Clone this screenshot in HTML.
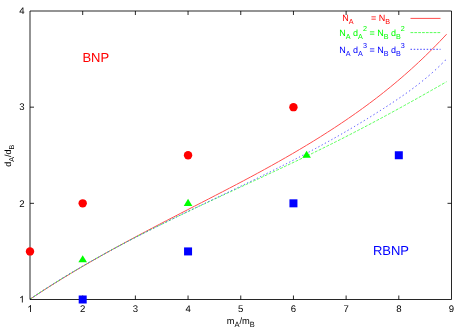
<!DOCTYPE html>
<html><head><meta charset="utf-8"><title>BNP / RBNP phase diagram</title>
<style>
html,body{margin:0;padding:0;background:#fff;}
body{width:467px;height:327px;overflow:hidden;}
svg{display:block;will-change:transform;text-rendering:geometricPrecision;font-family:"Liberation Sans",sans-serif;}
</style></head><body>
<svg width="467" height="327" viewBox="0 0 467 327">
<rect width="467" height="327" fill="#fff"/>
<!-- curves -->
<g fill="none" stroke-width="1">
<path d="M30.00,299.20 L33.50,296.88 L37.00,294.58 L40.50,292.30 L44.00,290.05 L47.50,287.81 L51.01,285.59 L54.51,283.40 L58.01,281.22 L61.51,279.06 L65.01,276.92 L68.51,274.80 L72.01,272.69 L75.51,270.60 L79.01,268.53 L82.51,266.47 L86.01,264.43 L89.51,262.40 L93.02,260.39 L96.52,258.39 L100.02,256.41 L103.52,254.44 L107.02,252.48 L110.52,250.53 L114.02,248.59 L117.52,246.67 L121.02,244.75 L124.52,242.85 L128.02,240.96 L131.52,239.07 L135.03,237.20 L138.53,235.33 L142.03,233.47 L145.53,231.61 L149.03,229.77 L152.53,227.93 L156.03,226.10 L159.53,224.27 L163.03,222.44 L166.53,220.63 L170.03,218.81 L173.53,217.00 L177.04,215.19 L180.54,213.39 L184.04,211.58 L187.54,209.78 L191.04,207.98 L194.54,206.18 L198.04,204.38 L201.54,202.59 L205.04,200.79 L208.54,198.98 L212.04,197.18 L215.54,195.37 L219.05,193.56 L222.55,191.75 L226.05,189.93 L229.55,188.10 L233.05,186.27 L236.55,184.43 L240.05,182.59 L243.55,180.74 L247.05,178.87 L250.55,177.00 L254.05,175.12 L257.55,173.23 L261.06,171.33 L264.56,169.41 L268.06,167.49 L271.56,165.55 L275.06,163.59 L278.56,161.63 L282.06,159.64 L285.56,157.65 L289.06,155.63 L292.56,153.60 L296.06,151.55 L299.56,149.48 L303.07,147.40 L306.57,145.29 L310.07,143.17 L313.57,141.02 L317.07,138.85 L320.57,136.66 L324.07,134.45 L327.57,132.21 L331.07,129.96 L334.57,127.67 L338.07,125.36 L341.57,123.03 L345.08,120.66 L348.58,118.27 L352.08,115.85 L355.58,113.39 L359.08,110.91 L362.58,108.38 L366.08,105.83 L369.58,103.23 L373.08,100.60 L376.58,97.93 L380.08,95.22 L383.58,92.46 L387.09,89.67 L390.59,86.82 L394.09,83.93 L397.59,81.00 L401.09,78.01 L404.59,74.98 L408.09,71.90 L411.59,68.76 L415.09,65.57 L418.59,62.32 L422.09,59.02 L425.59,55.65 L429.10,52.23 L432.60,48.75 L436.10,45.21 L439.60,41.61 L443.10,37.94 L446.60,34.20" stroke="#ff4d4d"/>
<path d="M30.00,299.20 L31.25,298.36 L32.50,297.52 M33.85,296.61 L35.10,295.77 L36.35,294.94 M37.70,294.04 L38.95,293.22 L40.20,292.39 M41.55,291.51 L42.80,290.69 L44.05,289.88 M45.40,289.00 L46.65,288.19 L47.90,287.39 M49.25,286.53 L50.50,285.73 L51.75,284.93 M53.10,284.08 L54.35,283.28 L55.60,282.50 M56.95,281.65 L58.20,280.87 L59.45,280.10 M60.80,279.26 L62.05,278.49 L63.30,277.72 M64.65,276.89 L65.90,276.13 L67.15,275.37 M68.50,274.55 L69.75,273.80 L71.00,273.04 M72.35,272.23 L73.60,271.49 L74.85,270.74 M76.20,269.94 L77.45,269.21 L78.70,268.47 M80.05,267.68 L81.30,266.95 L82.55,266.22 M83.90,265.43 L85.15,264.71 L86.40,263.99 M87.75,263.21 L89.00,262.50 L90.25,261.78 M91.60,261.01 L92.85,260.30 L94.10,259.60 M95.45,258.84 L96.70,258.13 L97.95,257.44 M99.30,256.68 L100.55,255.99 L101.80,255.29 M103.15,254.55 L104.40,253.86 L105.65,253.17 M107.00,252.43 L108.25,251.75 L109.50,251.07 M110.85,250.34 L112.10,249.66 L113.35,248.99 M114.70,248.26 L115.95,247.59 L117.20,246.92 M118.55,246.21 L119.80,245.54 L121.05,244.88 M122.40,244.17 L123.65,243.51 L124.90,242.85 M126.25,242.14 L127.50,241.49 L128.75,240.84 M130.10,240.14 L131.35,239.49 L132.60,238.84 M133.95,238.15 L135.20,237.50 L136.45,236.86 M137.80,236.17 L139.05,235.53 L140.30,234.90 M141.65,234.21 L142.90,233.58 L144.15,232.94 M145.50,232.26 L146.75,231.63 L148.00,231.01 M149.35,230.33 L150.60,229.71 L151.85,229.08 M153.20,228.41 L154.45,227.79 L155.70,227.17 M157.05,226.50 L158.30,225.89 L159.55,225.27 M160.90,224.61 L162.15,223.99 L163.40,223.38 M164.75,222.72 L166.00,222.11 L167.25,221.51 M168.60,220.85 L169.85,220.24 L171.10,219.64 M172.45,218.99 L173.70,218.38 L174.95,217.78 M176.30,217.13 L177.55,216.53 L178.80,215.93 M180.15,215.29 L181.40,214.69 L182.65,214.09 M184.00,213.45 L185.25,212.85 L186.50,212.26 M187.85,211.62 L189.10,211.03 L190.35,210.44 M191.70,209.80 L192.95,209.21 L194.20,208.62 M195.55,207.98 L196.80,207.39 L198.05,206.81 M199.40,206.17 L200.65,205.59 L201.90,205.00 M203.25,204.37 L204.50,203.78 L205.75,203.20 M207.10,202.57 L208.35,201.98 L209.60,201.40 M210.95,200.77 L212.20,200.19 L213.45,199.61 M214.80,198.98 L216.05,198.40 L217.30,197.82 M218.65,197.19 L219.90,196.61 L221.15,196.03 M222.50,195.41 L223.75,194.83 L225.00,194.25 M226.35,193.63 L227.60,193.05 L228.85,192.47 M230.20,191.84 L231.45,191.27 L232.70,190.69 M234.05,190.07 L235.30,189.49 L236.55,188.91 M237.90,188.29 L239.15,187.71 L240.40,187.13 M241.75,186.51 L243.00,185.93 L244.25,185.35 M245.60,184.73 L246.85,184.15 L248.10,183.57 M249.45,182.95 L250.70,182.37 L251.95,181.79 M253.30,181.17 L254.55,180.59 L255.80,180.01 M257.15,179.39 L258.40,178.81 L259.65,178.23 M261.00,177.60 L262.25,177.02 L263.50,176.44 M264.85,175.82 L266.10,175.23 L267.35,174.65 M268.70,174.03 L269.95,173.44 L271.20,172.86 M272.55,172.23 L273.80,171.65 L275.05,171.06 M276.40,170.43 L277.65,169.85 L278.90,169.26 M280.25,168.63 L281.50,168.04 L282.75,167.46 M284.10,166.82 L285.35,166.23 L286.60,165.64 M287.95,165.01 L289.20,164.42 L290.45,163.82 M291.80,163.19 L293.05,162.59 L294.30,162.00 M295.65,161.36 L296.90,160.76 L298.15,160.17 M299.50,159.52 L300.75,158.93 L302.00,158.33 M303.35,157.68 L304.60,157.08 L305.85,156.48 M307.20,155.83 L308.45,155.23 L309.70,154.62 M311.05,153.97 L312.30,153.36 L313.55,152.76 M314.90,152.10 L316.15,151.49 L317.40,150.88 M318.75,150.22 L320.00,149.61 L321.25,149.00 M322.60,148.33 L323.85,147.72 L325.10,147.10 M326.45,146.43 L327.70,145.81 L328.95,145.19 M330.30,144.52 L331.55,143.90 L332.80,143.27 M334.15,142.60 L335.40,141.97 L336.65,141.34 M338.00,140.66 L339.25,140.03 L340.50,139.40 M341.85,138.71 L343.10,138.08 L344.35,137.44 M345.70,136.75 L346.95,136.11 L348.20,135.47 M349.55,134.78 L350.80,134.14 L352.05,133.49 M353.40,132.80 L354.65,132.15 L355.90,131.50 M357.25,130.80 L358.50,130.15 L359.75,129.50 M361.10,128.79 L362.35,128.14 L363.60,127.48 M364.95,126.78 L366.20,126.12 L367.45,125.46 M368.80,124.75 L370.05,124.09 L371.30,123.42 M372.65,122.71 L373.90,122.04 L375.15,121.38 M376.50,120.66 L377.75,119.99 L379.00,119.32 M380.35,118.60 L381.60,117.92 L382.85,117.25 M384.20,116.52 L385.45,115.85 L386.70,115.17 M388.05,114.44 L389.30,113.76 L390.55,113.09 M391.90,112.35 L393.15,111.67 L394.40,110.99 M395.75,110.25 L397.00,109.57 L398.25,108.88 M399.60,108.14 L400.85,107.45 L402.10,106.77 M403.45,106.02 L404.70,105.33 L405.95,104.64 M407.30,103.89 L408.55,103.20 L409.80,102.51 M411.15,101.76 L412.40,101.06 L413.65,100.36 M415.00,99.61 L416.25,98.91 L417.50,98.21 M418.85,97.46 L420.10,96.75 L421.35,96.05 M422.70,95.29 L423.95,94.59 L425.20,93.89 M426.55,93.12 L427.80,92.42 L429.05,91.71 M430.40,90.94 L431.65,90.24 L432.90,89.53 M434.25,88.76 L435.50,88.05 L436.75,87.34 M438.10,86.56 L439.35,85.85 L440.60,85.14 M441.95,84.36 L443.20,83.65 L444.45,82.93 M445.80,82.16 L446.20,81.93 L446.60,81.70" stroke="#58ff58"/>
<path d="M30.00,299.20 L30.55,298.83 L31.10,298.46 M33.24,297.01 L33.79,296.64 L34.34,296.28 M36.48,294.85 L37.03,294.48 L37.58,294.12 M39.72,292.70 L40.27,292.34 L40.82,291.98 M42.96,290.58 L43.51,290.22 L44.06,289.86 M46.20,288.47 L46.75,288.12 L47.30,287.76 M49.44,286.39 L49.99,286.04 L50.54,285.69 M52.68,284.33 L53.23,283.98 L53.78,283.64 M55.92,282.29 L56.47,281.95 L57.02,281.60 M59.16,280.27 L59.71,279.93 L60.26,279.59 M62.40,278.27 L62.95,277.93 L63.50,277.59 M65.64,276.28 L66.19,275.95 L66.74,275.62 M68.88,274.32 L69.43,273.99 L69.98,273.66 M72.12,272.37 L72.67,272.04 L73.22,271.72 M75.36,270.44 L75.91,270.12 L76.46,269.79 M78.60,268.53 L79.15,268.21 L79.70,267.89 M81.84,266.64 L82.39,266.32 L82.94,266.00 M85.08,264.76 L85.63,264.44 L86.18,264.13 M88.32,262.90 L88.87,262.59 L89.42,262.27 M91.56,261.06 L92.11,260.74 L92.66,260.43 M94.80,259.23 L95.35,258.92 L95.90,258.61 M98.04,257.41 L98.59,257.10 L99.14,256.80 M101.28,255.61 L101.83,255.31 L102.38,255.00 M104.52,253.82 L105.07,253.52 L105.62,253.22 M107.76,252.05 L108.31,251.75 L108.86,251.45 M111.00,250.29 L111.55,249.99 L112.10,249.70 M114.24,248.54 L114.79,248.25 L115.34,247.96 M117.48,246.81 L118.03,246.52 L118.58,246.23 M120.72,245.09 L121.27,244.80 L121.82,244.51 M123.96,243.38 L124.51,243.09 L125.06,242.80 M127.20,241.68 L127.75,241.39 L128.30,241.11 M130.44,239.99 L130.99,239.71 L131.54,239.42 M133.68,238.32 L134.23,238.03 L134.78,237.75 M136.92,236.65 L137.47,236.37 L138.02,236.09 M140.16,234.99 L140.71,234.71 L141.26,234.43 M143.40,233.35 L143.95,233.07 L144.50,232.79 M146.64,231.71 L147.19,231.43 L147.74,231.15 M149.88,230.08 L150.43,229.80 L150.98,229.53 M153.12,228.45 L153.67,228.18 L154.22,227.91 M156.36,226.84 L156.91,226.57 L157.46,226.29 M159.60,225.23 L160.15,224.96 L160.70,224.69 M162.84,223.63 L163.39,223.36 L163.94,223.09 M166.08,222.04 L166.63,221.77 L167.18,221.50 M169.32,220.45 L169.87,220.18 L170.42,219.91 M172.56,218.87 L173.11,218.60 L173.66,218.33 M175.80,217.29 L176.35,217.03 L176.90,216.76 M179.04,215.72 L179.59,215.46 L180.14,215.19 M182.28,214.16 L182.83,213.89 L183.38,213.62 M185.52,212.59 L186.07,212.33 L186.62,212.06 M188.76,211.03 L189.31,210.77 L189.86,210.50 M192.00,209.48 L192.55,209.21 L193.10,208.95 M195.24,207.92 L195.79,207.66 L196.34,207.40 M198.48,206.37 L199.03,206.11 L199.58,205.85 M201.72,204.83 L202.27,204.56 L202.82,204.30 M204.96,203.28 L205.51,203.02 L206.06,202.75 M208.20,201.73 L208.75,201.47 L209.30,201.21 M211.44,200.19 L211.99,199.93 L212.54,199.67 M214.68,198.65 L215.23,198.38 L215.78,198.12 M217.92,197.10 L218.47,196.84 L219.02,196.58 M221.16,195.56 L221.71,195.30 L222.26,195.03 M224.40,194.01 L224.95,193.75 L225.50,193.49 M227.64,192.47 L228.19,192.20 L228.74,191.94 M230.88,190.92 L231.43,190.65 L231.98,190.39 M234.12,189.37 L234.67,189.10 L235.22,188.84 M237.36,187.81 L237.91,187.55 L238.46,187.29 M240.60,186.26 L241.15,185.99 L241.70,185.73 M243.84,184.70 L244.39,184.44 L244.94,184.17 M247.08,183.14 L247.63,182.87 L248.18,182.61 M250.32,181.57 L250.87,181.30 L251.42,181.04 M253.56,180.00 L254.11,179.73 L254.66,179.47 M256.80,178.42 L257.35,178.16 L257.90,177.89 M260.04,176.84 L260.59,176.57 L261.14,176.30 M263.28,175.25 L263.83,174.98 L264.38,174.71 M266.52,173.66 L267.07,173.39 L267.62,173.12 M269.76,172.06 L270.31,171.79 L270.86,171.52 M273.00,170.45 L273.55,170.18 L274.10,169.91 M276.24,168.84 L276.79,168.56 L277.34,168.29 M279.48,167.22 L280.03,166.94 L280.58,166.66 M282.72,165.58 L283.27,165.31 L283.82,165.03 M285.96,163.94 L286.51,163.67 L287.06,163.39 M289.20,162.30 L289.75,162.01 L290.30,161.73 M292.44,160.64 L292.99,160.35 L293.54,160.07 M295.68,158.97 L296.23,158.68 L296.78,158.40 M298.92,157.29 L299.47,157.00 L300.02,156.72 M302.16,155.60 L302.71,155.31 L303.26,155.02 M305.40,153.90 L305.95,153.61 L306.50,153.32 M308.64,152.19 L309.19,151.90 L309.74,151.60 M311.88,150.46 L312.43,150.17 L312.98,149.88 M315.12,148.72 L315.67,148.43 L316.22,148.13 M318.36,146.97 L318.91,146.68 L319.46,146.38 M321.60,145.21 L322.15,144.91 L322.70,144.61 M324.84,143.43 L325.39,143.13 L325.94,142.83 M328.08,141.64 L328.63,141.34 L329.18,141.03 M331.32,139.84 L331.87,139.53 L332.42,139.22 M334.56,138.02 L335.11,137.71 L335.66,137.40 M337.80,136.18 L338.35,135.87 L338.90,135.55 M341.04,134.33 L341.59,134.01 L342.14,133.70 M344.28,132.46 L344.83,132.14 L345.38,131.82 M347.52,130.58 L348.07,130.26 L348.62,129.94 M350.76,128.68 L351.31,128.36 L351.86,128.03 M354.00,126.76 L354.55,126.44 L355.10,126.11 M357.24,124.83 L357.79,124.50 L358.34,124.17 M360.48,122.88 L361.03,122.55 L361.58,122.21 M363.72,120.91 L364.27,120.57 L364.82,120.24 M366.96,118.92 L367.51,118.59 L368.06,118.25 M370.20,116.92 L370.75,116.58 L371.30,116.24 M373.44,114.90 L373.99,114.55 L374.54,114.21 M376.68,112.86 L377.23,112.51 L377.78,112.16 M379.92,110.80 L380.47,110.45 L381.02,110.10 M383.16,108.73 L383.71,108.37 L384.26,108.01 M386.40,106.63 L386.95,106.27 L387.50,105.91 M389.64,104.51 L390.19,104.15 L390.74,103.79 M392.88,102.38 L393.43,102.01 L393.98,101.65 M396.12,100.21 L396.67,99.85 L397.22,99.48 M399.36,98.02 L399.91,97.65 L400.46,97.27 M402.60,95.79 L403.15,95.41 L403.70,95.03 M405.84,93.52 L406.39,93.13 L406.94,92.75 M409.08,91.20 L409.63,90.81 L410.18,90.41 M412.32,88.83 L412.87,88.42 L413.42,88.02 M415.56,86.40 L416.11,85.98 L416.66,85.56 M418.80,83.91 L419.35,83.47 L419.90,83.04 M422.04,81.34 L422.59,80.89 L423.14,80.45 M425.28,78.70 L425.83,78.24 L426.38,77.77 M428.52,75.97 L429.07,75.50 L429.62,75.02 M431.76,73.16 L432.31,72.67 L432.86,72.17 M435.00,70.25 L435.55,69.75 L436.10,69.23 M438.24,67.24 L438.79,66.72 L439.34,66.19 M441.48,64.12 L442.03,63.58 L442.58,63.04 M444.72,60.89 L445.26,60.34 L445.80,59.80" stroke="#4444ff"/>
</g>
<!-- frame -->
<g stroke="#000" stroke-width="0.85" fill="none">
<line x1="30.0" y1="11.0" x2="30.0" y2="299.5"/>
<line x1="451.5" y1="11.0" x2="451.5" y2="299.5"/>
<line x1="30.0" y1="11.0" x2="451.5" y2="11.0"/>
<line x1="30.0" y1="299.5" x2="451.5" y2="299.5"/>
<line x1="82.69" y1="299.5" x2="82.69" y2="295.5"/><line x1="82.69" y1="11.0" x2="82.69" y2="15.0"/><line x1="135.38" y1="299.5" x2="135.38" y2="295.5"/><line x1="135.38" y1="11.0" x2="135.38" y2="15.0"/><line x1="188.06" y1="299.5" x2="188.06" y2="295.5"/><line x1="188.06" y1="11.0" x2="188.06" y2="15.0"/><line x1="240.75" y1="299.5" x2="240.75" y2="295.5"/><line x1="240.75" y1="11.0" x2="240.75" y2="15.0"/><line x1="293.44" y1="299.5" x2="293.44" y2="295.5"/><line x1="293.44" y1="11.0" x2="293.44" y2="15.0"/><line x1="346.12" y1="299.5" x2="346.12" y2="295.5"/><line x1="346.12" y1="11.0" x2="346.12" y2="15.0"/><line x1="398.81" y1="299.5" x2="398.81" y2="295.5"/><line x1="398.81" y1="11.0" x2="398.81" y2="15.0"/><line x1="30.0" y1="203.33" x2="34.0" y2="203.33"/><line x1="451.5" y1="203.33" x2="447.5" y2="203.33"/><line x1="30.0" y1="107.17" x2="34.0" y2="107.17"/><line x1="451.5" y1="107.17" x2="447.5" y2="107.17"/>
</g>
<!-- tick labels -->
<g font-size="9.6" fill="#000"><path transform="translate(27.33,312.00) scale(9.6,-9.6)" d="M0.372,0 L0.284,0 L0.284,0.560 Q0.252,0.530 0.200,0.499 Q0.149,0.469 0.108,0.454 L0.108,0.539 Q0.182,0.574 0.237,0.623 Q0.292,0.673 0.315,0.719 L0.372,0.719 Z"/><text x="82.69" y="312" text-anchor="middle">2</text><text x="135.38" y="312" text-anchor="middle">3</text><text x="188.06" y="312" text-anchor="middle">4</text><text x="240.75" y="312" text-anchor="middle">5</text><text x="293.44" y="312" text-anchor="middle">6</text><text x="346.12" y="312" text-anchor="middle">7</text><text x="398.81" y="312" text-anchor="middle">8</text><text x="451.50" y="312" text-anchor="middle">9</text><path transform="translate(19.16,302.60) scale(9.6,-9.6)" d="M0.372,0 L0.284,0 L0.284,0.560 Q0.252,0.530 0.200,0.499 Q0.149,0.469 0.108,0.454 L0.108,0.539 Q0.182,0.574 0.237,0.623 Q0.292,0.673 0.315,0.719 L0.372,0.719 Z"/><text x="24.5" y="206.83" text-anchor="end">2</text><text x="24.5" y="110.37" text-anchor="end">3</text><text x="24.5" y="13.80" text-anchor="end">4</text></g>
<!-- axis labels -->
<text x="226.7" y="324" font-size="9.3" fill="#000">m<tspan font-size="7.5" dy="2.9">A</tspan><tspan dy="-2.9">/m</tspan><tspan font-size="7.5" dy="2.9">B</tspan></text>
<text transform="translate(10.7,166.8) rotate(-90)" font-size="9" fill="#000">d<tspan font-size="7.2" dy="2.9">A</tspan><tspan dy="-2.9">/d</tspan><tspan font-size="7.2" dy="2.9">B</tspan></text>
<!-- region labels -->
<text x="82.4" y="61.5" font-size="13" fill="#ff0000">BNP</text>
<text x="372.9" y="254.6" font-size="13" fill="#0000ff">RBNP</text>
<!-- legend -->
<g font-size="9">
<text x="342.3" y="21" fill="#ff0000">N<tspan font-size="7.2" dy="2.9">A</tspan><tspan dy="-2.9" x="371">= N</tspan><tspan font-size="7.2" dy="2.9">B</tspan></text>
<text x="339.3" y="36.3" fill="#00ff00">N<tspan font-size="7.2" dy="2.9">A</tspan><tspan dy="-2.9"> d</tspan><tspan font-size="7.2" dy="2.9">A</tspan><tspan font-size="7.2" dy="-7.8">2</tspan><tspan dy="4.9"> = N</tspan><tspan font-size="7.2" dy="2.9">B</tspan><tspan dy="-2.9"> d</tspan><tspan font-size="7.2" dy="2.9">B</tspan><tspan font-size="7.2" dy="-7.8">2</tspan></text>
<text x="339.3" y="52.7" fill="#0000ff">N<tspan font-size="7.2" dy="2.9">A</tspan><tspan dy="-2.9"> d</tspan><tspan font-size="7.2" dy="2.9">A</tspan><tspan font-size="7.2" dy="-7.8">3</tspan><tspan dy="4.9"> = N</tspan><tspan font-size="7.2" dy="2.9">B</tspan><tspan dy="-2.9"> d</tspan><tspan font-size="7.2" dy="2.9">B</tspan><tspan font-size="7.2" dy="-7.8">3</tspan></text>
</g>
<g fill="none" stroke-width="1">
<line x1="410.5" y1="18.4" x2="440.5" y2="18.4" stroke="#ff4d4d"/>
<line x1="410.5" y1="32.6" x2="440.5" y2="32.6" stroke="#58ff58" stroke-dasharray="2.75 1.1"/>
<line x1="410.5" y1="49.3" x2="440.5" y2="49.3" stroke="#4444ff" stroke-dasharray="1.5 1.74"/>
</g>
<!-- markers -->
<g fill="#ff0000"><circle cx="30.00" cy="251.42" r="4.2"/><circle cx="82.69" cy="203.33" r="4.2"/><circle cx="188.06" cy="155.25" r="4.2"/><circle cx="293.44" cy="107.17" r="4.2"/></g>
<g fill="#00ff00"><path d="M82.69,255.17 L86.99,262.27 L78.39,262.27Z"/><path d="M188.06,198.83 L192.36,205.93 L183.76,205.93Z"/><path d="M306.61,150.75 L310.91,157.85 L302.31,157.85Z"/></g>
<g fill="#0000ff"><rect x="78.69" y="295.50" width="8" height="8"/><rect x="184.06" y="247.42" width="8" height="8"/><rect x="289.44" y="199.33" width="8" height="8"/><rect x="394.81" y="151.25" width="8" height="8"/></g>
</svg>
</body></html>
